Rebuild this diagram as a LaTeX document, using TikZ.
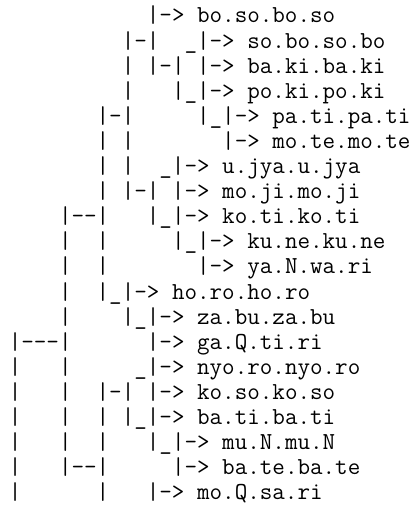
\documentclass[tikz,border=0pt]{standalone}
\usepackage{tikz}

\begin{document}
\begin{tikzpicture}[x=1pt,y=1pt,
    row/.style={anchor=base west,inner sep=0pt,
      font=\ttfamily\fontsize{24.38}{25}\selectfont}]
  \useasboundingbox (0,0) rectangle (419,507);
  % one node per printed line, spaces kept as ~
  \foreach \txt [count=\i] in {
    ~~~~~~~~~~~|-> bo.so.bo.so,
    ~~~~~~~~~|-|~~\_|-> so.bo.so.bo,
    ~~~~~~~~~|~|-|~|-> ba.ki.ba.ki,
    ~~~~~~~~~|~~~|\_|-> po.ki.po.ki,
    ~~~~~~~|-|~~~~~|\_|-> pa.ti.pa.ti,
    ~~~~~~~|~|~~~~~~~|-> mo.te.mo.te,
    ~~~~~~~|~|~~\_|-> u.jya.u.jya,
    ~~~~~~~|~|-|~|-> mo.ji.mo.ji,
    ~~~~|-\kern0pt-|~~~|\_|-> ko.ti.ko.ti,
    ~~~~|~~|~~~~~|\_|-> ku.ne.ku.ne,
    ~~~~|~~|~~~~~~~|-> ya.N.wa.ri,
    ~~~~|~~|\_|-> ho.ro.ho.ro,
    ~~~~|~~~~|\_|-> za.bu.za.bu,
    |-\kern0pt-\kern0pt-|~~~~~~|-> ga.Q.ti.ri,
    |~~~|~~~~~\_|-> nyo.ro.nyo.ro,
    |~~~|~~|-|~|-> ko.so.ko.so,
    |~~~|~~|~|\_|-> ba.ti.ba.ti,
    |~~~|~~|~~~|\_|-> mu.N.mu.N,
    |~~~|-\kern0pt-|~~~~~|-> ba.te.ba.te,
    |~~~~~~|~~~|-> mo.Q.sa.ri}{
    \node[row] (r\i) at (8.6,{484-25.1*(\i-1)}) {\txt};
  }
\end{tikzpicture}
\end{document}
